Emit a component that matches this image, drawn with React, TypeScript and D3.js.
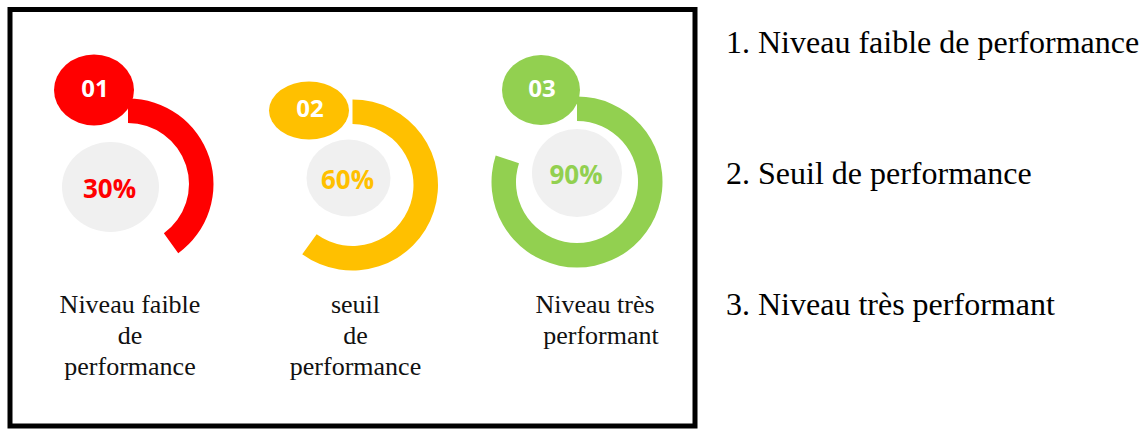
import React from 'react';
import * as d3 from 'd3';

// values
const levels = ['01', '02', '03'];
const percentLabels = [30, 60, 90];
// the rings are not drawn to the printed percentage; these are the drawn shares
const drawnFill = [0.4, 0.6, 0.8];
const colors = ['#ff0000', '#ffc000', '#92d050'];
const captions = [
  ['Niveau faible', 'de', 'performance'],
  ['seuil', 'de', 'performance'],
  ['Niveau très', 'performant'],
];
const legendItems = [
  '1. Niveau faible de performance',
  '2. Seuil de performance',
  '3. Niveau très performant',
];

// hand-drawn layout offsets (relative to ring centre)
const badgeLayout = [
  { dx: -34, dy: -94, rx: 40, ry: 35.5 },
  { dx: -43.5, dy: -73.5, rx: 40, ry: 29 },
  { dx: -36, dy: -94, rx: 39, ry: 35 },
];
const discLayout = [
  { dx: -17.5, dy: 3, rx: 48.5, ry: 45 },
  { dx: -4, dy: -6, rx: 42, ry: 38.5 },
  { dx: 0, dy: -11, rx: 45, ry: 44 },
];
const ringDy = [0, 1, -2];
const captionDx = [2, 3, 18];

const W = 1142;
const H = 429;

export default function App() {
  const x = d3.scalePoint<string>().domain(levels).range([128, 577]);
  const cy = 184;
  const arc = d3.arc<number>()
    .innerRadius(61)
    .outerRadius(85.5)
    .startAngle(0)
    .endAngle(d => d * 2 * Math.PI);

  const legendY = d3.scalePoint<string>().domain(legendItems).range([53, 315]);

  return (
    <svg width={W} height={H} style={{ position: 'absolute', left: 0, top: 0 }}>
      <rect width={W} height={H} fill="#fff" />
      <rect x={10} y={9.5} width={685} height={416.5} fill="none" stroke="#000" strokeWidth={5} />

      {levels.map((lv, i) => {
        const cx = x(lv)!;
        const b = badgeLayout[i];
        const g = discLayout[i];
        return (
          <g key={lv}>
            <path d={arc(drawnFill[i])!} transform={`translate(${cx},${cy + ringDy[i]})`} fill={colors[i]} />
            <ellipse cx={cx + g.dx} cy={cy + g.dy} rx={g.rx} ry={g.ry} fill="#f0f0f0" />
            <text
              x={cx + g.dx - 1}
              y={cy + g.dy + 1}
              textAnchor="middle"
              dominantBaseline="central"
              fontFamily="'Open Sans', sans-serif"
              fontWeight={700}
              fontSize={26}
              fill={colors[i]}
            >
              {percentLabels[i]}%
            </text>
            <ellipse cx={cx + b.dx} cy={cy + b.dy} rx={b.rx} ry={b.ry} fill={colors[i]} />
            <text
              x={cx + b.dx + 1}
              y={cy + b.dy - 3}
              textAnchor="middle"
              dominantBaseline="central"
              fontFamily="'Open Sans', sans-serif"
              fontWeight={700}
              fontSize={24}
              fill="#fff"
            >
              {lv}
            </text>
            {captions[i].map((line, j) => (
              <text
                key={j}
                x={cx + captionDx[i] + (i === 2 && j === 1 ? 6 : 0)}
                y={313 + j * 31}
                textAnchor="middle"
                fontFamily="'Liberation Serif', 'Times New Roman', serif"
                fontSize={26}
                fill="#111"
              >
                {line}
              </text>
            ))}
          </g>
        );
      })}

      {legendItems.map(item => (
        <text
          key={item}
          x={726}
          y={legendY(item)}
          fontFamily="'Liberation Serif', 'Times New Roman', serif"
          fontSize={32}
          fill="#000"
        >
          {item}
        </text>
      ))}
    </svg>
  );
}
